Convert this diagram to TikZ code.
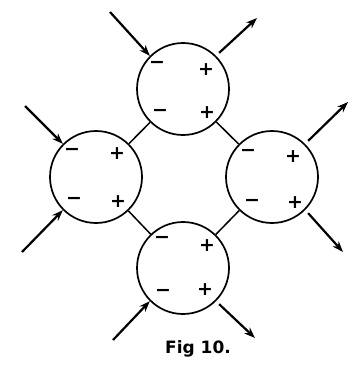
\documentclass[tikz,border=0pt]{standalone}
\usepackage{fontspec}
\setmainfont{DejaVu Sans}
\usetikzlibrary{arrows.meta}
\begin{document}
\begin{tikzpicture}[x=1pt,y=-1pt,
  cell/.style={circle,draw,line width=1.7pt,minimum size=92pt,inner sep=0pt},
  link/.style={line width=1.5pt},
  flow/.style={line width=2.2pt,-{Stealth[length=11pt,width=8pt]}},
  sgn/.style={font=\fontsize{19}{19}\selectfont\bfseries,inner sep=0pt},
  caption/.style={font=\fontsize{17}{17}\selectfont\bfseries,inner sep=0pt}]
\useasboundingbox (0,0) rectangle (357,381);

% the four cells
\node[cell] (T) at (183,89) {};
\node[cell] (L) at (96,177) {};
\node[cell] (R) at (272,177) {};
\node[cell] (B) at (183,268) {};

% links between neighbouring cells
\draw[link] (T) -- (L);
\draw[link] (T) -- (R);
\draw[link] (L) -- (B);
\draw[link] (R) -- (B);

% charges
\node[sgn] (t1) at (157,65) {−};
\node[sgn] (t2) at (206,70) {+};
\node[sgn] (t3) at (160,113) {−};
\node[sgn] (t4) at (207,113) {+};
\node[sgn] (l1) at (72,152) {−};
\node[sgn] (l2) at (117,154) {+};
\node[sgn] (l3) at (74,201) {−};
\node[sgn] (l4) at (118,202) {+};
\node[sgn] (r1) at (248,153) {−};
\node[sgn] (r2) at (293,157) {+};
\node[sgn] (r3) at (252,203) {−};
\node[sgn] (r4) at (295,203) {+};
\node[sgn] (b1) at (162,240) {−};
\node[sgn] (b2) at (207,246) {+};
\node[sgn] (b3) at (163,293) {−};
\node[sgn] (b4) at (205,290) {+};

% free ends of the currents
\coordinate (tin) at (110,12);
\coordinate (tout) at (257,18);
\coordinate (lin1) at (25,106);
\coordinate (lin2) at (22,252);
\coordinate (rout1) at (348,102);
\coordinate (rout2) at (343,252);
\coordinate (bin) at (113,340);
\coordinate (bout) at (255,338);

% incoming currents
\draw[flow] (tin) -- (T.135);
\draw[flow] (lin1) -- (L.135);
\draw[flow] (lin2) -- (L.225);
\draw[flow] (bin) -- (B.225);
% outgoing currents
\draw[flow] ([shift={(3,-3)}]T.45) -- (tout);
\draw[flow] ([shift={(3,-3)}]R.45) -- (rout1);
\draw[flow] ([shift={(3,3)}]R.-45) -- (rout2);
\draw[flow] ([shift={(3,3)}]B.-45) -- (bout);

\node[caption] (fig) at (198,349) {Fig 10.};
\end{tikzpicture}
\end{document}
